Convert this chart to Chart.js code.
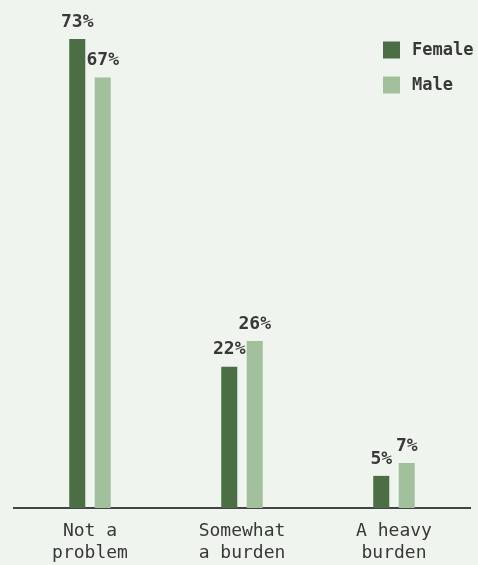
<!DOCTYPE html>
<html><head><meta charset="utf-8">
<script src="https://cdn.jsdelivr.net/npm/chart.js@4"></script>
<style>
html,body{margin:0;padding:0;background:#eff4ee;overflow:hidden}
#wrap{position:relative;width:478px;height:565px}
</style></head>
<body><div id="wrap"><canvas id="c" width="478" height="565"></canvas></div>
<script>
const categories = [["Not a","problem"],["Somewhat","a burden"],["A heavy","burden"]];
const seriesNames = ["Female","Male"];
const femaleValues = [73,22,5];
const maleValues = [67,26,7];
const seriesColors = ["#4b6e45","#a2c09b"];
const FONT = '"DejaVu Sans Mono", "Liberation Mono", monospace';
const TEXT = '#383838';

const labelPlugin = {
  id:'labels',
  afterDatasetsDraw(chart){
    const ctx = chart.ctx;
    ctx.save();
    ctx.font = 'bold 18px ' + FONT;
    ctx.fillStyle = TEXT;
    ctx.textAlign = 'center';
    ctx.textBaseline = 'middle';
    chart.data.datasets.forEach((ds,i)=>{
      chart.getDatasetMeta(i).data.forEach((bar,j)=>{
        ctx.fillText(ds.data[j] + '%', bar.x, bar.y - 17);
      });
    });
    // legend
    ctx.font = 'bold 17px ' + FONT;
    ctx.textAlign = 'left';
    chart.data.datasets.forEach((ds,i)=>{
      const y = 50 + i*35;
      ctx.fillStyle = ds.backgroundColor;
      ctx.fillRect(383, y-8.5, 17, 17);
      ctx.fillStyle = TEXT;
      ctx.fillText(ds.label, 412, y+1);
    });
    ctx.restore();
  }
};

new Chart(document.getElementById('c'), {
  type:'bar',
  data:{
    labels: categories,
    datasets:[
      {label:seriesNames[0], data:femaleValues, backgroundColor:seriesColors[0], categoryPercentage:0.335, barPercentage:0.63},
      {label:seriesNames[1], data:maleValues, backgroundColor:seriesColors[1], categoryPercentage:0.335, barPercentage:0.63}
    ]
  },
  options:{
    responsive:false, animation:false,
    layout:{padding:{left:14,right:8,top:39,bottom:0}},
    plugins:{legend:{display:false},tooltip:{enabled:false}},
    scales:{
      y:{display:false,min:0,max:73},
      x:{
        grid:{display:false,drawTicks:false},
        border:{display:true,color:'#444',width:2},
        ticks:{color:TEXT,font:{family:FONT,size:18},padding:13,maxRotation:0,autoSkip:false},
        afterFit(scale){ scale.height = 57; }
      }
    }
  },
  plugins:[labelPlugin]
});
</script></body></html>
